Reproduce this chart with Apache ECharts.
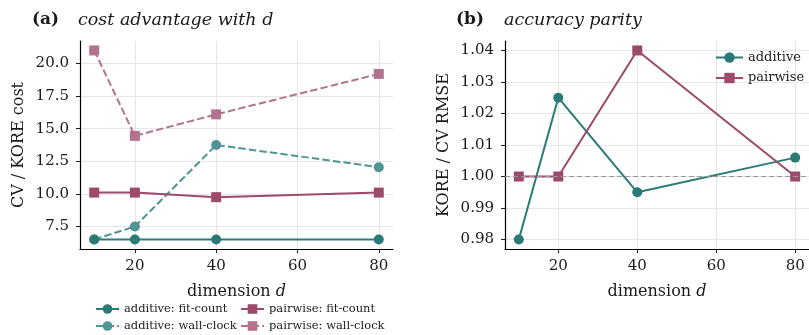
<!DOCTYPE html>
<html>
<head>
<meta charset="utf-8">
<script src="https://cdn.jsdelivr.net/npm/echarts@6/dist/echarts.min.js"></script>
<style>
  html, body { margin: 0; padding: 0; background: #ffffff; }
  #chart { width: 809px; height: 335px; }
</style>
</head>
<body>
<div id="chart"></div>
<script>
// Problem dimension d
const dims = [10, 20, 40, 80];

// (a) CV / KORE cost ratio
const additiveFitCount = [6.5, 6.5, 6.5, 6.5];
const additiveWallClock = [6.5, 7.5, 13.75, 12.05];
const pairwiseFitCount = [10.1, 10.1, 9.75, 10.1];
const pairwiseWallClock = [21.0, 14.45, 16.1, 19.2];

// (b) KORE / CV RMSE ratio
const additiveRmse = [0.980, 1.025, 0.995, 1.006];
const pairwiseRmse = [1.000, 1.000, 1.040, 1.000];
const parityLevel = 1.0;

// Tick values
const dimTicks = [20, 40, 60, 80];
const costTicks = [7.5, 10.0, 12.5, 15.0, 17.5, 20.0];
const rmseTicks = [0.98, 0.99, 1.00, 1.01, 1.02, 1.03, 1.04];

const TEAL = '#2a7b78';
const TEAL_LIGHT = '#4f9593';
const PLUM = '#9c4a6b';
const PLUM_LIGHT = '#b3738f';
const FONT = 'DejaVu Serif';
const INK = '#1a1a1a';

const pairs = (xs, ys) => xs.map((x, i) => [x, ys[i]]);

function xAxisFor(gridIndex) {
  return {
    type: 'value', gridIndex,
    min: 6.5, max: 83.5,
    name: '{n|dimension }{d|d}',
    nameLocation: 'middle', nameGap: 35,
    nameTextStyle: {
      rich: {
        n: { fontFamily: FONT, fontSize: 16, color: INK },
        d: { fontFamily: FONT, fontStyle: 'italic', fontSize: 16, color: INK }
      }
    },
    axisLine: { show: true, lineStyle: { color: '#000', width: 1.2 } },
    axisTick: { show: true, length: 4, customValues: dimTicks, lineStyle: { color: '#222', width: 1 } },
    axisLabel: { customValues: dimTicks, fontFamily: FONT, fontSize: 15, color: INK, margin: 10 },
    splitLine: { show: true, lineStyle: { color: '#e6e6e6', width: 1 } }
  };
}

function yAxisFor(gridIndex, min, max, ticks, name, decimals) {
  return {
    type: 'value', gridIndex, min, max,
    name, nameLocation: 'middle', nameGap: 53,
    nameTextStyle: { fontFamily: FONT, fontSize: 16, color: INK },
    axisLine: { show: true, lineStyle: { color: '#000', width: 1.2 } },
    axisTick: { show: true, length: 4, customValues: ticks, lineStyle: { color: '#222', width: 1 } },
    axisLabel: {
      customValues: ticks, fontFamily: FONT, fontSize: 15, color: INK, margin: 11,
      formatter: v => v.toFixed(decimals)
    },
    splitLine: { show: true, lineStyle: { color: '#e6e6e6', width: 1 } }
  };
}

function lineSeries(name, xi, yi, data, color, symbol, dashed) {
  return {
    name, type: 'line', xAxisIndex: xi, yAxisIndex: yi,
    data: pairs(dims, data),
    symbol, symbolSize: 10,
    itemStyle: { color },
    lineStyle: { color, width: 2, type: dashed ? [7.4, 3.2] : 'solid' },
    emphasis: { disabled: true },
    animation: false
  };
}

const series = [
  lineSeries('additive: wall-clock', 0, 0, additiveWallClock, TEAL_LIGHT, 'circle', true),
  lineSeries('pairwise: wall-clock', 0, 0, pairwiseWallClock, PLUM_LIGHT, 'rect', true),
  lineSeries('additive: fit-count', 0, 0, additiveFitCount, TEAL, 'circle', false),
  lineSeries('pairwise: fit-count', 0, 0, pairwiseFitCount, PLUM, 'rect', false),
  lineSeries('additive', 1, 1, additiveRmse, TEAL, 'circle', false),
  lineSeries('pairwise', 1, 1, pairwiseRmse, PLUM, 'rect', false)
];

// Parity reference at 1.0
series[4].markLine = {
  silent: true, symbol: 'none', label: { show: false },
  lineStyle: { color: '#999', type: [5, 3], width: 1.2 },
  data: [{ yAxis: parityLevel }],
  animation: false
};

const legendText = { fontFamily: FONT, fontSize: 11.5, color: INK };
const titleBold = { fontFamily: FONT, fontWeight: 'bold', fontSize: 17, color: INK };
const titleItalic = { fontFamily: FONT, fontStyle: 'italic', fontWeight: 'normal', fontSize: 17.5, color: INK };

const option = {
  backgroundColor: '#ffffff',
  animation: false,
  title: [
    { text: '(a)', left: 32, top: 11, padding: 0, textStyle: titleBold },
    { text: '{t|cost advantage with }{d|d}', left: 78, top: 11, padding: 0,
      textStyle: { fontWeight: 'normal', rich: { t: titleItalic, d: titleItalic } } },
    { text: '(b)', left: 456, top: 11, padding: 0, textStyle: titleBold },
    { text: 'accuracy parity', left: 504, top: 11, padding: 0, textStyle: titleItalic }
  ],
  grid: [
    { left: 80, top: 41, width: 313, height: 208, containLabel: false },
    { left: 505, top: 41, width: 312, height: 208, containLabel: false }
  ],
  xAxis: [xAxisFor(0), xAxisFor(1)],
  yAxis: [
    yAxisFor(0, 5.775, 21.725, costTicks, 'CV / KORE cost', 1),
    yAxisFor(1, 0.977, 1.043, rmseTicks, 'KORE / CV RMSE', 2)
  ],
  legend: [
    { data: ['additive: fit-count', 'additive: wall-clock'], orient: 'vertical', left: 95, top: 303,
      padding: 0, itemWidth: 23, itemHeight: 12, itemGap: 5, textStyle: legendText },
    { data: ['pairwise: fit-count', 'pairwise: wall-clock'], orient: 'vertical', left: 240, top: 303,
      padding: 0, itemWidth: 23, itemHeight: 12, itemGap: 5, textStyle: legendText },
    { data: ['additive', 'pairwise'], orient: 'vertical', left: 715, top: 51,
      padding: 0, itemWidth: 27, itemHeight: 13, itemGap: 7.5,
      textStyle: { fontFamily: FONT, fontSize: 13, color: INK } }
  ],
  series
};

const chart = echarts.init(document.getElementById('chart'), null, { renderer: 'canvas' });
chart.setOption(option);
</script>
</body>
</html>
